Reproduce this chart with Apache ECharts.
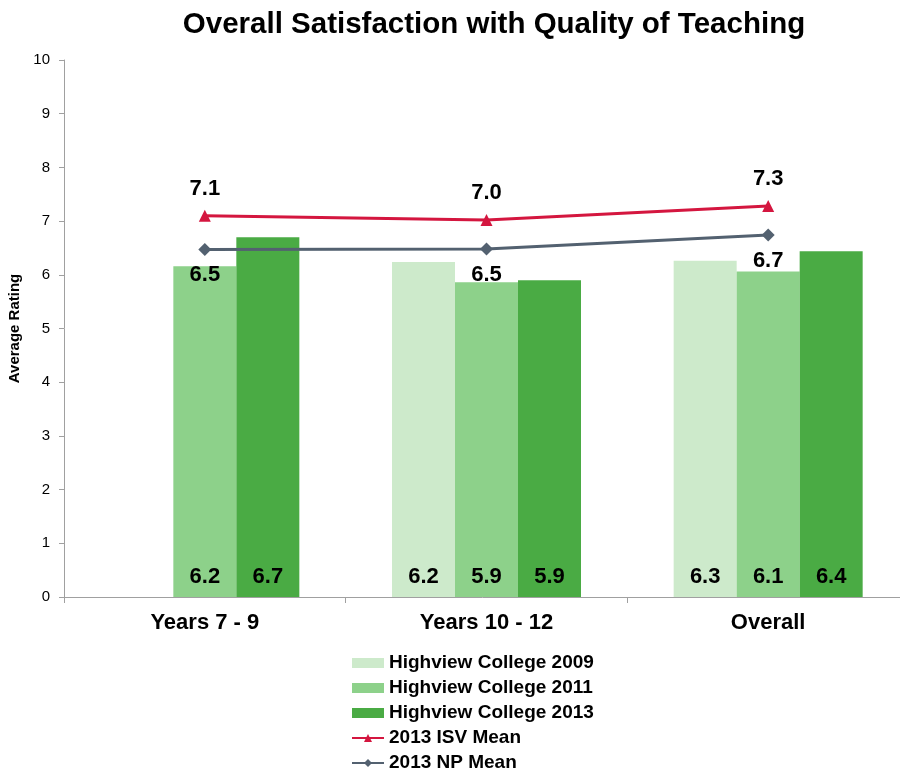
<!DOCTYPE html>
<html>
<head>
<meta charset="utf-8">
<script src="https://cdn.jsdelivr.net/npm/echarts@6/dist/echarts.min.js"></script>
<style>
  html, body { margin: 0; padding: 0; background: #fff; }
  #chart { width: 900px; height: 772px; }
</style>
</head>
<body>
<div id="chart"></div>
<script>
const categories = ['Years 7 - 9', 'Years 10 - 12', 'Overall'];
const college2009 = [null, 6.24, 6.26];
const college2011 = [6.16, 5.86, 6.06];
const college2013 = [6.70, 5.90, 6.44];
const isvMean = [7.10, 7.02, 7.28];
const npMean = [6.47, 6.48, 6.74];

const FONT = 'Liberation Sans, Arial, sans-serif';

const chart = echarts.init(document.getElementById('chart'));

const barLabel = {
  show: true,
  position: 'insideBottom',
  distance: 9,
  color: '#000',
  fontFamily: FONT,
  fontWeight: 'bold',
  fontSize: 22,
  formatter: p => p.value == null ? '' : Number(p.value).toFixed(1)
};

const bar = (name, data, color) => ({
  name: name,
  type: 'bar',
  data: data,
  barWidth: 63,
  barGap: '0%',
  itemStyle: { color: color },
  label: barLabel
});

const option = {
  animation: false,
  title: {
    text: 'Overall Satisfaction with Quality of Teaching',
    left: 489,
    top: 5,
    textAlign: 'center',
    textStyle: { fontFamily: FONT, fontWeight: 'bold', fontSize: 29.5, color: '#000' }
  },
  grid: { left: 64, right: -9, top: 60, bottom: 175, outerBoundsMode: 'none' },
  legend: {
    orient: 'vertical',
    left: 351,
    top: 653,
    height: 125,
    padding: 0,
    itemWidth: 32,
    itemHeight: 10,
    itemGap: 5,
    textStyle: { fontFamily: FONT, fontWeight: 'bold', fontSize: 19, lineHeight: 20, color: '#000' },
    data: [
      { name: 'Highview College 2009', icon: 'rect' },
      { name: 'Highview College 2011', icon: 'rect' },
      { name: 'Highview College 2013', icon: 'rect' },
      '2013 ISV Mean',
      '2013 NP Mean'
    ]
  },
  xAxis: {
    type: 'category',
    data: categories,
    axisLine: { lineStyle: { color: '#a0a0a0', width: 1 } },
    axisTick: { show: true, alignWithLabel: false, length: 6, lineStyle: { color: '#a0a0a0' } },
    axisLabel: { fontFamily: FONT, fontWeight: 'bold', fontSize: 22, color: '#000', margin: 15 }
  },
  yAxis: {
    type: 'value',
    min: 0,
    max: 10,
    interval: 1,
    name: 'Average Rating',
    nameLocation: 'middle',
    nameGap: 36,
    nameTextStyle: { fontFamily: FONT, fontWeight: 'bold', fontSize: 15, color: '#000' },
    axisLine: { show: true, lineStyle: { color: '#a0a0a0', width: 1 } },
    axisTick: { show: true, length: 5, lineStyle: { color: '#a0a0a0' } },
    splitLine: { show: false },
    axisLabel: { fontFamily: FONT, fontSize: 15, color: '#000', margin: 14 }
  },
  series: [
    bar('Highview College 2009', college2009, '#cdeacb'),
    bar('Highview College 2011', college2011, '#8dd18a'),
    bar('Highview College 2013', college2013, '#4aab44'),
    {
      name: '2013 ISV Mean',
      type: 'line',
      data: isvMean,
      symbol: 'triangle',
      symbolSize: 12,
      itemStyle: { color: '#d4163f' },
      lineStyle: { color: '#d4163f', width: 3 },
      label: {
        show: true, position: 'top', distance: 10,
        fontFamily: FONT, fontWeight: 'bold', fontSize: 22, color: '#000',
        formatter: p => p.value.toFixed(1)
      },
      z: 5
    },
    {
      name: '2013 NP Mean',
      type: 'line',
      data: npMean,
      symbol: 'diamond',
      symbolSize: 13,
      itemStyle: { color: '#536170' },
      lineStyle: { color: '#536170', width: 3 },
      label: {
        show: true, position: 'bottom', distance: 8,
        fontFamily: FONT, fontWeight: 'bold', fontSize: 22, color: '#000',
        formatter: p => p.value.toFixed(1)
      },
      z: 5
    }
  ]
};

chart.setOption(option);
</script>
</body>
</html>
